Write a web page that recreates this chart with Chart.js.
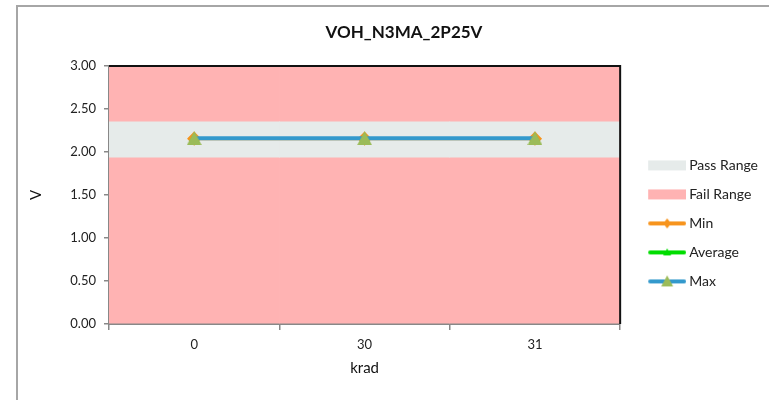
<!DOCTYPE html>
<html>
<head>
<meta charset="utf-8">
<script src="https://cdn.jsdelivr.net/npm/chart.js@4.4.1/dist/chart.umd.min.js"></script>
<style>
  html, body { margin: 0; padding: 0; background: #fff; overflow: hidden; }
  #frame { position: absolute; left: 16px; top: 5px; border-left: 2px solid #a6a6a6; border-top: 2px solid #a6a6a6; width: 772px; height: 398px; }
  canvas { display: block; }
</style>
</head>
<body>
<div id="frame"><canvas id="chart" width="772" height="398"></canvas></div>
<script>
const categories = ['0', '30', '31'];
const minValues = [2.155, 2.155, 2.155];
const avgValues = [2.158, 2.158, 2.158];
const maxValues = [2.16, 2.16, 2.16];
const passLow = [1.94, 1.94, 1.94];
const passHigh = [2.35, 2.35, 2.35];
const failLow = [0, 0, 0];
const failHigh = [3, 3, 3];
const yTickValues = [0, 0.5, 1, 1.5, 2, 2.5, 3];

const FONT = 'Lato';

// small canvases used as marker / legend symbols
function triangleCanvas(color, w, h) {
    const c = document.createElement('canvas');
    c.width = w; c.height = h;
    const g = c.getContext('2d');
    g.fillStyle = color;
    g.beginPath();
    g.moveTo(w / 2, 0);
    g.lineTo(w, h);
    g.lineTo(0, h);
    g.closePath();
    g.fill();
    return c;
}

// legend symbol is drawn in the right part of a wider canvas, the blank
// left part keeps a gap between the plot and the legend
const SYM_OFF = 17;
function legendSymbol(kind, lineColor, markerColor) {
    const c = document.createElement('canvas');
    c.width = 38 + SYM_OFF; c.height = 14;
    const g = c.getContext('2d');
    g.translate(SYM_OFF, 0);
    if (kind === 'box') {
        g.fillStyle = lineColor;
        g.fillRect(0, 2, 38, 10);
        return c;
    }
    g.strokeStyle = lineColor;
    g.lineWidth = 4;
    g.lineCap = 'round';
    g.beginPath();
    g.moveTo(2, 7);
    g.lineTo(36, 7);
    g.stroke();
    g.fillStyle = markerColor;
    g.beginPath();
    if (kind === 'diamond') {
        g.moveTo(19, 2); g.lineTo(23, 7); g.lineTo(19, 12); g.lineTo(15, 7);
    } else if (kind === 'smalltri') {
        g.moveTo(19, 3); g.lineTo(23, 10); g.lineTo(15, 10);
    } else {
        g.moveTo(19, 1); g.lineTo(25, 12); g.lineTo(13, 12);
    }
    g.closePath();
    g.fill();
    return c;
}

const maxMarker = triangleCanvas('#9bbb59', 15, 14);
const avgMarker = triangleCanvas('#00dd00', 11, 10);

const legendSymbols = [
    legendSymbol('box', '#e6ebea'),
    legendSymbol('box', '#ffb3b3'),
    legendSymbol('diamond', '#f7941d', '#f7941d'),
    legendSymbol('smalltri', '#00dd00', '#00dd00'),
    legendSymbol('tri', '#3399cc', '#9bbb59')
];

const plotFrame = {
    id: 'plotFrame',
    afterDraw(chart) {
        const {ctx, chartArea: a} = chart;
        ctx.save();
        ctx.strokeStyle = '#111';
        ctx.lineWidth = 2;
        ctx.beginPath();
        ctx.moveTo(a.left, a.top);
        ctx.lineTo(a.right, a.top);
        ctx.lineTo(a.right, a.bottom);
        ctx.stroke();
        ctx.restore();
    }
};

const barBase = {
    type: 'bar',
    borderWidth: 0,
    barPercentage: 1,
    categoryPercentage: 1,
    grouped: false
};

new Chart(document.getElementById('chart').getContext('2d'), {
    type: 'bar',
    data: {
        labels: categories,
        datasets: [
            {
                ...barBase,
                label: 'Pass Range',
                data: categories.map((c, i) => [passLow[i], passHigh[i]]),
                backgroundColor: '#e6ebea',
                order: 3
            },
            {
                ...barBase,
                label: 'Fail Range',
                data: categories.map((c, i) => [failLow[i], failHigh[i]]),
                backgroundColor: '#ffb3b3',
                order: 4
            },
            {
                type: 'line',
                label: 'Min',
                data: minValues,
                borderColor: '#f7941d',
                backgroundColor: '#f7941d',
                borderWidth: 3,
                pointStyle: 'rectRot',
                pointRadius: 5,
                order: 2
            },
            {
                type: 'line',
                label: 'Average',
                data: avgValues,
                borderColor: '#00dd00',
                backgroundColor: '#00dd00',
                borderWidth: 3,
                pointStyle: avgMarker,
                order: 1
            },
            {
                type: 'line',
                label: 'Max',
                data: maxValues,
                borderColor: '#3399cc',
                backgroundColor: '#9bbb59',
                borderWidth: 4,
                pointStyle: maxMarker,
                order: 0
            }
        ]
    },
    options: {
        responsive: false,
        animation: false,
        events: [],
        // left padding is wide so the chart title sits centred on the whole frame
        layout: {padding: {top: 8, left: 22, right: 22, bottom: 24}},
        scales: {
            x: {
                offset: true,
                z: 1,
                afterFit: s => { s.height = 57; },
                ticks: {color: '#222', font: {family: FONT, size: 13}, padding: 7},
                grid: {offset: true, drawOnChartArea: false, tickLength: 6, color: '#888', lineWidth: 1.5},
                border: {color: '#888', width: 2},
                title: {display: true, text: 'krad', color: '#111', font: {family: FONT, size: 15}, padding: {top: 4, bottom: 4}}
            },
            y: {
                min: 0,
                max: 3,
                z: 1,
                afterBuildTicks: s => { s.ticks = yTickValues.map(v => ({value: v})); },
                afterFit: s => { s.width = 69; },
                ticks: {callback: v => Number(v).toFixed(2), color: '#222', font: {family: FONT, size: 13}, padding: 8},
                grid: {drawOnChartArea: false, tickLength: 5, color: '#888', lineWidth: 1.5},
                border: {color: '#888', width: 2},
                title: {display: true, text: 'V', color: '#111', font: {family: FONT, size: 15}, padding: {top: -13, bottom: 4}}
            }
        },
        plugins: {
            tooltip: {enabled: false},
            title: {
                display: true,
                text: 'VOH_N3MA_2P25V',
                color: '#111',
                font: {family: FONT, size: 17, weight: 'bold'},
                padding: {top: 7, bottom: 23.6}
            },
            legend: {
                position: 'right',
                align: 'start',
                title: {display: true, text: ' ', font: {size: 12}, padding: {top: 114, bottom: 0}},
                labels: {
                    usePointStyle: true,
                    pointStyleWidth: 47,
                    padding: 15,
                    color: '#222',
                    font: {family: FONT, size: 14},
                    generateLabels: chart => chart.data.datasets.map((ds, i) => ({
                        text: ds.label,
                        pointStyle: legendSymbols[i],
                        fillStyle: 'transparent',
                        strokeStyle: 'transparent',
                        lineWidth: 0,
                        hidden: false,
                        datasetIndex: i,
                        fontColor: '#222'
                    }))
                }
            }
        }
    },
    plugins: [plotFrame]
});
</script>
</body>
</html>
